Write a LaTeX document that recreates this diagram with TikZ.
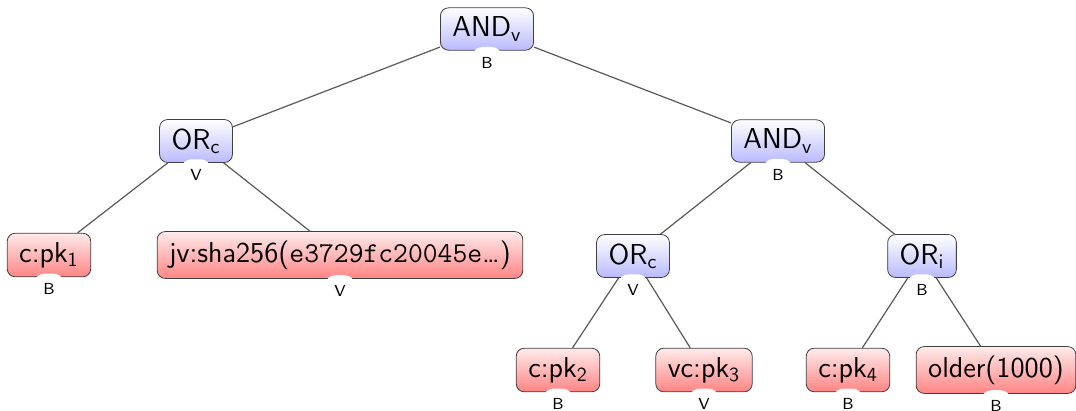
\documentclass[tikz,border=0pt]{standalone}
\usetikzlibrary{shadings}

\newcommand{\idx}[1]{$_{\mathsf{#1}}$}

\begin{document}
\begin{tikzpicture}[x=0.5pt, y=-0.5pt,
    box/.style={rectangle, rounded corners=4pt, draw=black!75, thin,
        font=\Large\sffamily, inner xsep=6pt, inner ysep=4.5pt, minimum height=21pt},
    inner/.style={box, top color=white, bottom color=blue!27},
    leaf/.style={box, top color=red!8, bottom color=red!48},
    tag/.style={label={[fill=white, rounded corners=5pt, inner xsep=4.5pt, inner ysep=5pt,
        font=\footnotesize\sffamily, label distance=-2pt]below:#1}},
    edge/.style={draw=black!65, line width=0.6pt}]
    \useasboundingbox (0,0) rectangle (1076,411);

    \node[inner, tag=B] (and1) at (487,29)  {AND\idx{v}};
    \node[inner, tag=V] (or1)  at (196,141) {OR\idx{c}};
    \node[inner, tag=B] (and2) at (778,141) {AND\idx{v}};
    \node[leaf, tag=B]  (pk1)  at (49,255)  {c:pk\idx{1}};
    \node[leaf, tag=V]  (hash) at (340,255) {jv:sha256(\texttt{e3729fc20045e}\ldots)};
    \node[inner, tag=V] (or2)  at (633,256) {OR\idx{c}};
    \node[inner, tag=B] (or3)  at (922,256) {OR\idx{i}};
    \node[leaf, tag=B]  (pk2)  at (558,370) {c:pk\idx{2}};
    \node[leaf, tag=V]  (pk3)  at (704,370) {vc:pk\idx{3}};
    \node[leaf, tag=B]  (pk4)  at (848,370) {c:pk\idx{4}};
    \node[leaf, tag=B]  (old)  at (996,370) {older(1000)};

    \draw[edge] (and1) -- (or1);
    \draw[edge] (and1) -- (and2);
    \draw[edge] (or1) -- (pk1);
    \draw[edge] (or1) -- (hash);
    \draw[edge] (and2) -- (or2);
    \draw[edge] (and2) -- (or3);
    \draw[edge] (or2) -- (pk2);
    \draw[edge] (or2) -- (pk3);
    \draw[edge] (or3) -- (pk4);
    \draw[edge] (or3) -- (old);
\end{tikzpicture}
\end{document}
